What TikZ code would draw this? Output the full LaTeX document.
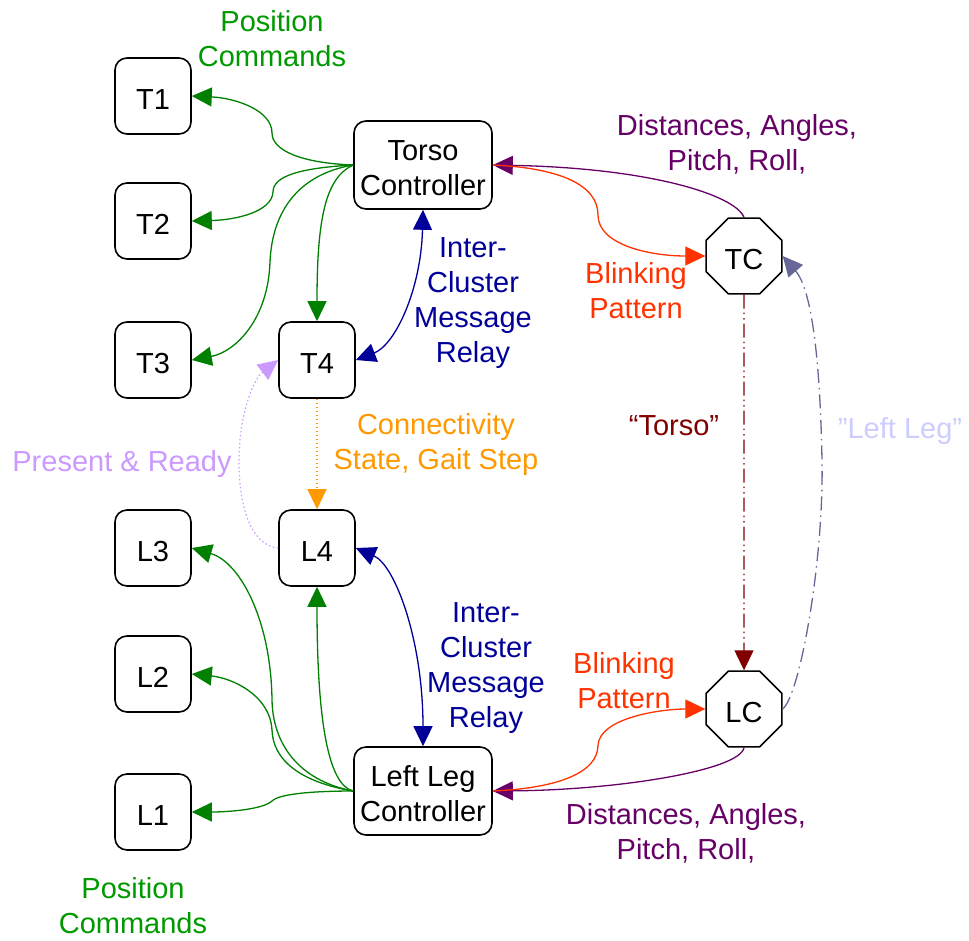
\documentclass[tikz,border=0pt]{standalone}
\usepackage{fontspec}
\setmainfont{Liberation Sans}
\usetikzlibrary{arrows.meta,shapes.geometric}
\definecolor{cgreen}{HTML}{008000}
\definecolor{lgreen}{HTML}{009900}
\definecolor{cpurple}{HTML}{660066}
\definecolor{cblue}{HTML}{000099}
\definecolor{cred}{HTML}{FF3300}
\definecolor{corange}{HTML}{FF9900}
\definecolor{clav}{HTML}{CC99FF}
\definecolor{cdred}{HTML}{800000}
\definecolor{cslate}{HTML}{666699}
\definecolor{cpale}{HTML}{CCCCFF}
\newcommand{\topstrut}{\rule{0pt}{27pt}}
\begin{document}
\begin{tikzpicture}[x=1pt,y=-1pt,
  lbl/.style={font=\fontsize{29}{35}\selectfont, align=center, inner sep=0pt},
  box/.style={draw, fill=white, line width=1.6pt, rounded corners=12pt, minimum width=76pt, minimum height=76pt, lbl},
  ctl/.style={box, minimum width=138pt, minimum height=88pt},
  oct/.style={draw, fill=white, line width=1.6pt, regular polygon, regular polygon sides=8, minimum size=82pt, lbl},
  arr/.style={line width=1.3pt, -{Triangle[length=20pt,width=19pt]}},
  darr/.style={line width=1.3pt, {Triangle[length=20pt,width=19pt]}-{Triangle[length=20pt,width=19pt]}},
  gconn/.style={arr, cgreen},
  bconn/.style={darr, cblue},
  pconn/.style={arr, cpurple},
  rconn/.style={arr, cred},
  oconn/.style={arr, corange, line width=1.2pt, dash pattern=on 1.5pt off 2.5pt},
  lconn/.style={arr, clav, line width=1.2pt, dash pattern=on 1.5pt off 2.5pt},
  drconn/.style={arr, cdred, dash pattern=on 14pt off 4pt on 1.5pt off 4pt on 1.5pt off 4pt},
  slconn/.style={arr, cslate, dash pattern=on 14pt off 5pt on 1.5pt off 5pt},
]
\useasboundingbox (0,0) rectangle (969,940);

% nodes
\node[box] (T1) at (153,96) {\topstrut T1};
\node[box] (T2) at (153,221) {\topstrut T2};
\node[box] (T3) at (153,360) {\topstrut T3};
\node[box] (T4) at (317,360) {\topstrut T4};
\node[ctl] (tctrl) at (423,165) {\topstrut Torso\\Controller};
\node[oct] (TCn) at (744,256) {\topstrut TC};
\node[box] (L3) at (153,548) {\topstrut L3};
\node[box] (L4) at (317,548) {\topstrut L4};
\node[box] (L2) at (153,674) {\topstrut L2};
\node[box] (L1) at (153,812) {\topstrut L1};
\node[ctl] (lctrl) at (423,791) {\topstrut Left Leg\\Controller};
\node[oct] (LCn) at (744,709) {\topstrut LC};

% labels
\node[lbl, text=lgreen] (pc1) at (272,39) {Position\\Commands};
\node[lbl, text=cpurple] (d1) at (737,144.5) {Distances, Angles,\\Pitch, Roll,};
\node[lbl, text=cblue] (icm1) at (473,303) {Inter-\\Cluster\\Message\\Relay};
\node[lbl, text=cred] (bp1) at (636,291) {Blinking\\Pattern};
\node[lbl, text=corange] (cs) at (436,444) {Connectivity\\State, Gait Step};
\node[lbl, text=clav] (pr) at (122,464) {Present \& Ready};
\node[lbl, text=cdred] (tq) at (674,426) {“Torso”};
\node[lbl, text=cpale] (lq) at (900,431) {”Left Leg”};
\node[lbl, text=cblue] (icm2) at (486,668) {Inter-\\Cluster\\Message\\Relay};
\node[lbl, text=cred] (bp2) at (624,681) {Blinking\\Pattern};
\node[lbl, text=cpurple] (d2) at (686,833.5) {Distances, Angles,\\Pitch, Roll,};
\node[lbl, text=lgreen] (pc2) at (133,906) {Position\\Commands};

% green: torso controller to T1..T4
\draw[gconn] (tctrl.west) .. controls (300,163) and (272,150) .. (272,133) .. controls (272,110) and (235,98) .. (T1.east);
\draw[gconn] (tctrl.west) .. controls (300,168) and (273,176) .. (273,192) .. controls (272,212) and (235,220) .. (T2.east);
\draw[gconn] (tctrl.west) .. controls (295,175) and (272,215) .. (270,262) .. controls (268,320) and (235,352) .. (T3.east);
\draw[gconn] (tctrl.west) .. controls (325,178) and (317,220) .. (T4.north);

% green: left leg controller to L1..L4
\draw[gconn] (lctrl.west) .. controls (328,785) and (317,720) .. (L4.south);
\draw[gconn] (lctrl.west) .. controls (305,782) and (273,750) .. (272,700) .. controls (271,620) and (240,562) .. (L3.east);
\draw[gconn] (lctrl.west) .. controls (300,782) and (273,760) .. (272,730) .. controls (270,695) and (232,678) .. (L2.east);
\draw[gconn] (lctrl.west) .. controls (320,791) and (280,793) .. (272,801) .. controls (262,810) and (225,812) .. (L1.east);

% blue inter-cluster relays
\draw[bconn] (tctrl.south) .. controls (421,290) and (395,345) .. (T4.east);
\draw[bconn] (L4.east) .. controls (395,565) and (423,640) .. (lctrl.north);

% T4 -> L4, L4 -> T4
\draw[oconn] (T4.south) -- (L4.north);
\draw[lconn] (L4.west) .. controls (250,545) and (239,505) .. (239,462) .. controls (239,410) and (255,378) .. (T4.west);

% right side
\draw[pconn] (TCn.north) .. controls (735,195) and (650,168) .. (tctrl.east);
\draw[rconn] (tctrl.east) .. controls (560,168) and (598,185) .. (598,215) .. controls (598,245) and (650,256) .. (TCn.west);
\draw[drconn] (TCn.south) -- (LCn.north);
\draw[slconn] (LCn.east) .. controls (800,695) and (824,560) .. (822,460) .. controls (820,360) and (812,290) .. (TCn.east);
\draw[pconn] (LCn.south) .. controls (740,770) and (620,790) .. (lctrl.east);
\draw[rconn] (lctrl.east) .. controls (560,788) and (598,772) .. (598,745) .. controls (600,718) and (660,709) .. (LCn.west);
\end{tikzpicture}
\end{document}
